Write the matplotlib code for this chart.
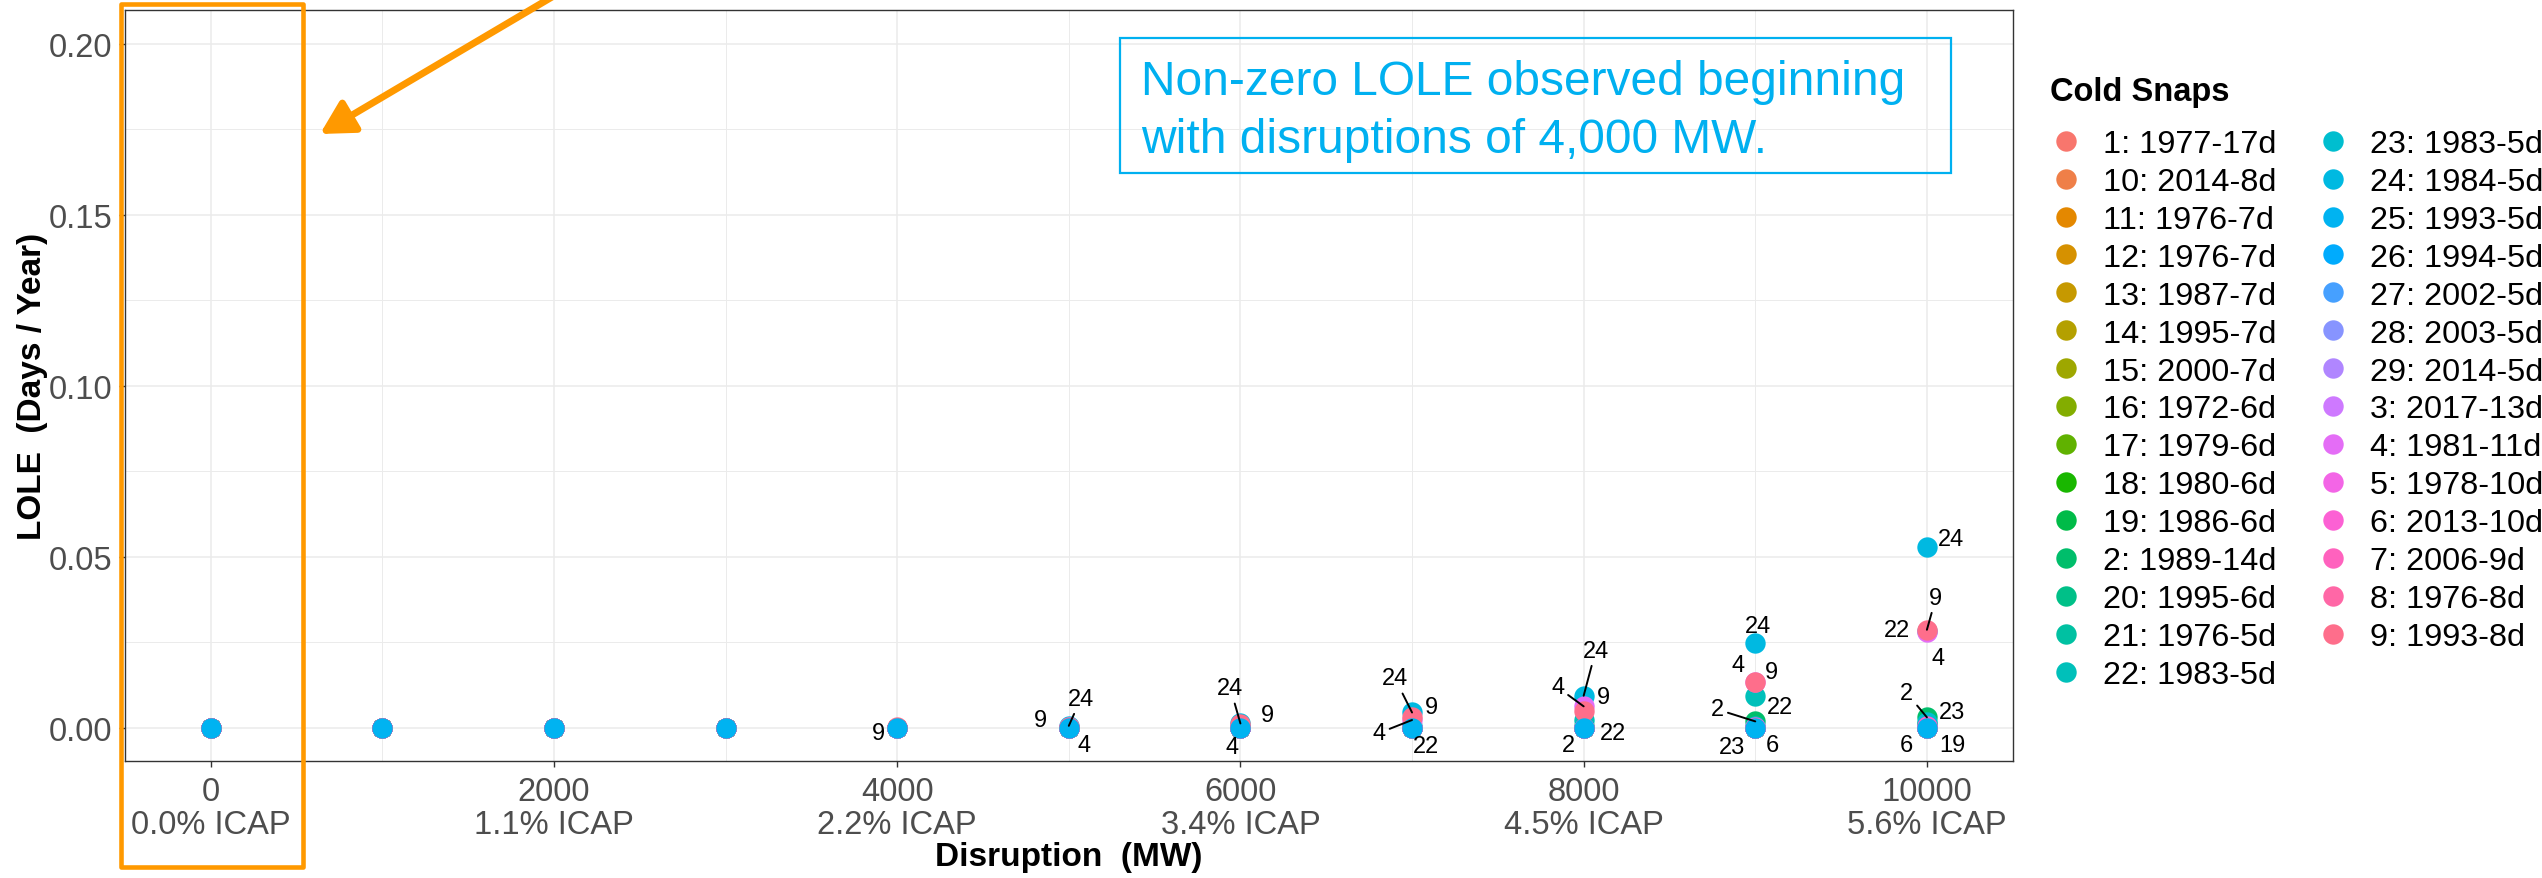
import matplotlib
matplotlib.use("Agg")
import matplotlib.pyplot as plt
from matplotlib.patches import Rectangle, FancyArrowPatch
from matplotlib.lines import Line2D
import numpy as np

plt.rcParams['font.family'] = ['Liberation Sans', 'DejaVu Sans']

# ---- data ----
disruption = [0, 1000, 2000, 3000, 4000, 5000, 6000, 7000, 8000, 9000, 10000]
tick_mw = [0, 2000, 4000, 6000, 8000, 10000]
tick_icap = ["0.0", "1.1", "2.2", "3.4", "4.5", "5.6"]

snap_ids = [1, 10, 11, 12, 13, 14, 15, 16, 17, 18, 19, 2, 20, 21, 22,
            23, 24, 25, 26, 27, 28, 29, 3, 4, 5, 6, 7, 8, 9]
snap_names = ["1977-17d", "2014-8d", "1976-7d", "1976-7d", "1987-7d", "1995-7d",
              "2000-7d", "1972-6d", "1979-6d", "1980-6d", "1986-6d", "1989-14d",
              "1995-6d", "1976-5d", "1983-5d", "1983-5d", "1984-5d", "1993-5d",
              "1994-5d", "2002-5d", "2003-5d", "2014-5d", "2017-13d", "1981-11d",
              "1978-10d", "2013-10d", "2006-9d", "1976-8d", "1993-8d"]

# non-zero LOLE (days / year); every other snap is zero at every level
lole_24 = [0, 0, 0, 0, 0, 0.0005, 0.0012, 0.0044, 0.0093, 0.0248, 0.0527]
lole_9 = [0, 0, 0, 0, 0.0002, 0.0003, 0.0010, 0.0032, 0.0047, 0.0134, 0.0286]
lole_4 = [0, 0, 0, 0, 0, 0.0002, 0.0003, 0.0022, 0.0062, 0.0132, 0.0279]
lole_22 = [0, 0, 0, 0, 0, 0, 0, 0.0004, 0.0022, 0.0093, 0.0281]
lole_2 = [0, 0, 0, 0, 0, 0, 0, 0, 0.0005, 0.0018, 0.0030]
lole_23 = [0, 0, 0, 0, 0, 0, 0, 0, 0, 0.0004, 0.0016]
lole_6 = [0, 0, 0, 0, 0, 0, 0, 0, 0, 0.0003, 0.0004]
lole_19 = [0, 0, 0, 0, 0, 0, 0, 0, 0, 0, 0.0010]
nonzero = {24: lole_24, 9: lole_9, 4: lole_4, 22: lole_22, 2: lole_2,
           23: lole_23, 6: lole_6, 19: lole_19}

# label placement (pixel offsets from the point, like ggrepel), with leader line flag
label_pos = {
    (9, 4000): (-19, -6, False),
    (9, 5000): (-28, 7, False), (24, 5000): (12, 27, True), (4, 5000): (15, -18, False),
    (24, 6000): (-10, 35, True), (9, 6000): (27, 9, False), (4, 6000): (-8, -20, False),
    (24, 7000): (-17, 34, True), (9, 7000): (19, 10, False), (4, 7000): (-33, -13, True),
    (22, 7000): (14, -20, False),
    (24, 8000): (12, 45, True), (9, 8000): (20, 14, False), (4, 8000): (-26, 19, True),
    (22, 8000): (29, -13, False), (2, 8000): (-15, -19, False),
    (24, 9000): (3, 17, False), (9, 9000): (16, 10, False), (4, 9000): (-17, 17, False),
    (22, 9000): (25, -11, False), (2, 9000): (-38, 12, True), (23, 9000): (-23, -21, False),
    (6, 9000): (17, -18, False),
    (24, 10000): (24, 8, False), (9, 10000): (9, 32, True), (22, 10000): (-30, 1, False),
    (4, 10000): (11, -26, False), (2, 10000): (-20, 24, True), (23, 10000): (25, 10, False),
    (6, 10000): (-21, -19, False), (19, 10000): (25, -21, False),
}


def hcl(h, c=100.0, l=65.0):
    # ggplot2 hue palette colour (polar LUV -> sRGB)
    hr = np.deg2rad(h)
    u, v = c * np.cos(hr), c * np.sin(hr)
    Y = ((l + 16) / 116) ** 3
    un, vn = 0.1978398, 0.4683363
    up = u / (13 * l) + un
    vp = v / (13 * l) + vn
    X = 9.0 * Y * up / (4 * vp)
    Z = -X / 3 - 5 * Y + 3 * Y / vp
    M = np.array([[3.240479, -1.537150, -0.498535],
                  [-0.969256, 1.875992, 0.041556],
                  [0.055648, -0.204043, 1.057311]])
    rgb = M @ np.array([X, Y, Z])
    rgb = np.where(rgb > 0.00304, 1.055 * np.abs(rgb) ** (1 / 2.4) - 0.055, 12.92 * rgb)
    return tuple(np.clip(rgb, 0, 1))


n = len(snap_ids)
hues = np.linspace(15, 375 - 360 / n, n)
colors = {sid: hcl(hh) for sid, hh in zip(snap_ids, hues)}

W, H = 2542, 879
fig = plt.figure(figsize=(W / 100, H / 100), dpi=100)
ax = fig.add_axes([0.04913, 0.13345, 0.79178 - 0.04913, 0.98749 - 0.13345])


def fx(px):
    return px / W


def fy(py):
    return 1 - py / H


draw_order = [s for s in snap_ids if s != 25] + [25]
for sid in draw_order:
    vals = nonzero.get(sid, [0] * len(disruption))
    ax.scatter(disruption, vals, s=215, color=colors[sid], linewidths=0, zorder=3)

for (sid, d), (dx, dy, seg) in label_pos.items():
    v = nonzero[sid][disruption.index(d)]
    ap = dict(arrowstyle='-', lw=1.4, color='black', shrinkA=1, shrinkB=0) if seg else None
    ax.annotate(str(sid), xy=(d, v), xytext=(dx, dy), textcoords='offset pixels',
                ha='center', va='center', fontsize=17, color='black',
                arrowprops=ap, zorder=5)

ax.set_xlim(-500, 10500)
ax.set_ylim(-0.0097, 0.2099)
ax.set_xticks(tick_mw)
ax.set_xticklabels([f"{m}\n{p}% ICAP" for m, p in zip(tick_mw, tick_icap)])
ax.set_xticks([1000, 3000, 5000, 7000, 9000], minor=True)
ax.set_yticks([0, 0.05, 0.10, 0.15, 0.20])
ax.set_yticklabels(["0.00", "0.05", "0.10", "0.15", "0.20"])
ax.set_yticks([0.025, 0.075, 0.125, 0.175], minor=True)
for t in ax.get_xticklabels():
    t.set_linespacing(1.08)
ax.tick_params(which='major', length=4, width=1, color='#333333', labelsize=23.5,
               labelcolor='#4D4D4D', pad=5)
ax.tick_params(axis='x', pad=7)
ax.tick_params(which='minor', length=0)
ax.grid(which='major', color='#EBEBEB', lw=1.1, zorder=0)
ax.grid(which='minor', color='#EBEBEB', lw=0.7, zorder=0)
ax.set_axisbelow(True)
for sp in ax.spines.values():
    sp.set_color('#333333')
    sp.set_linewidth(1.0)

ax.set_xlabel("Disruption  (MW)", fontsize=24, fontweight='bold', labelpad=1)
ax.set_ylabel("LOLE  (Days / Year)", fontsize=24, fontweight='bold', labelpad=0.5)

# legend (title drawn separately to control its gap)
fig.text(fx(2050), fy(101), "Cold Snaps", fontsize=23.5, fontweight='bold', va='baseline')
handles = [Line2D([], [], ls='', marker='o', markersize=14.7, markeredgewidth=0,
                  color=colors[s]) for s in snap_ids]
labels = [f"{s}: {nm}" for s, nm in zip(snap_ids, snap_names)]
fig.legend(handles, labels, ncol=2, loc='upper left', bbox_to_anchor=(fx(2053), fy(130)),
           frameon=False, fontsize=23.3,
           handlelength=0.8, handletextpad=0.74, columnspacing=1.36, labelspacing=0.245,
           borderpad=0, borderaxespad=0)

# callout box
fig.add_artist(Rectangle((fx(1120), fy(174)), fx(1951) - fx(1120), fy(39) - fy(174),
                         transform=fig.transFigure, fill=False, ec='#00B0F0', lw=1.6))
fig.text(fx(1141), fy(95), "Non-zero LOLE observed beginning", fontsize=34.5,
         color='#00B0F0', va='baseline')
fig.text(fx(1141), fy(153), "with disruptions of 4,000 MW.", fontsize=34.5,
         color='#00B0F0', va='baseline')

# orange highlight around the zero-disruption column
fig.add_artist(Rectangle((fx(121), fy(868)), fx(303) - fx(121), fy(5) - fy(868),
                         transform=fig.transFigure, fill=False, ec='#FF9900', lw=3.3,
                         joinstyle='round'))
fig.add_artist(FancyArrowPatch((fx(552), fy(-2)), (fx(320), fy(135)),
                               transform=fig.transFigure, color='#FF9900', lw=5,
                               arrowstyle='-|>,head_length=20,head_width=11',
                               shrinkA=0, shrinkB=0))

fig.savefig("out.png", dpi=100)
